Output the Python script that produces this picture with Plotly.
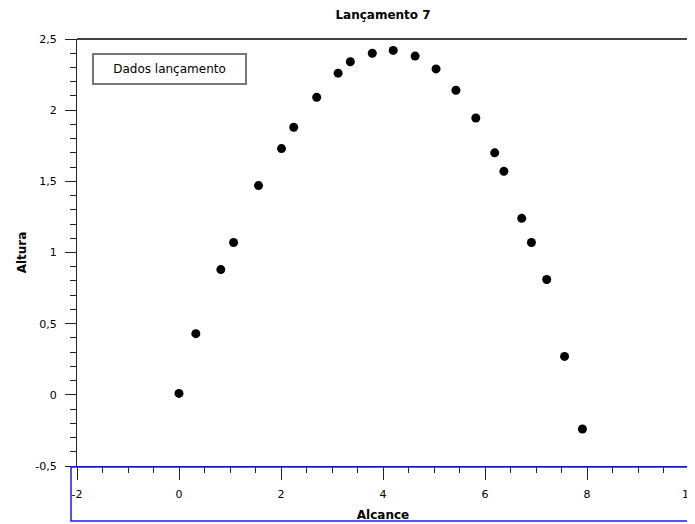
import plotly.graph_objects as go

alcance = [0.0, 0.33, 0.82, 1.07, 1.56, 2.01, 2.25, 2.70, 3.12, 3.36, 3.79, 4.20,
           4.63, 5.04, 5.43, 5.82, 6.19, 6.37, 6.72, 6.91, 7.21, 7.56, 7.91]
altura = [0.01, 0.43, 0.88, 1.07, 1.47, 1.73, 1.88, 2.09, 2.26, 2.34, 2.40, 2.42,
          2.38, 2.29, 2.14, 1.945, 1.70, 1.57, 1.24, 1.07, 0.81, 0.27, -0.24]

x_tick_vals = [-2, 0, 2, 4, 6, 8, 10]
x_tick_text = ["-2", "0", "2", "4", "6", "8", "10"]
y_tick_vals = [-0.5, 0, 0.5, 1, 1.5, 2, 2.5]
y_tick_text = ["-0,5", "0", "0,5", "1", "1,5", "2", "2,5"]

title_text = "Lançamento 7"
legend_text = "Dados lançamento"
x_title = "Alcance"
y_title = "Altura"

FONT = "DejaVu Sans"

# the page body has an 8px margin, so the figure is drawn 8px smaller
W, H = 687, 516
L, R, T, B = 69, 6, 31, 58
PW, PH = W - L - R, H - T - B  # 612 x 427

fig = go.Figure()
fig.add_trace(go.Scatter(
    x=alcance, y=altura, mode="markers", name=legend_text,
    marker=dict(color="black", size=9),
    showlegend=False, cliponaxis=False,
))

fig.update_layout(
    width=W, height=H,
    margin=dict(l=L, r=R, t=T, b=B, autoexpand=False),
    paper_bgcolor="white", plot_bgcolor="white",
    separators=", ",
    font=dict(family=FONT, size=11, color="black"),
    title=dict(text="<b>" + title_text + "</b>", x=(L + PW / 2) / W, xanchor="center",
               y=1 - 7 / H, yanchor="middle", automargin=False,
               font=dict(family=FONT, size=12, color="black")),
    xaxis=dict(
        range=[-2, 10], tickmode="array", tickvals=x_tick_vals, ticktext=x_tick_text,
        automargin=False,
        showgrid=False, zeroline=False, ticklabeloverflow="allow",
        showline=True, linecolor="black", linewidth=1, mirror=False,
        ticks="outside", ticklen=13, tickwidth=1, tickcolor="#222",
        ticklabelstandoff=5,
        minor=dict(dtick=0.5, tick0=0, ticks="outside", ticklen=6, tickwidth=1, tickcolor="#222"),
        tickfont=dict(family=FONT, size=11, color="black"),
        title=dict(text="<b>" + x_title + "</b>", standoff=10, font=dict(family=FONT, size=12)),
    ),
    yaxis=dict(
        range=[-0.5, 2.5], tickmode="array", tickvals=y_tick_vals, ticktext=y_tick_text,
        automargin=False,
        showgrid=False, zeroline=False, ticklabeloverflow="allow",
        showline=True, linecolor="#222", linewidth=1,
        ticks="outside", ticklen=11, tickwidth=1, tickcolor="#222",
        ticklabelstandoff=6,
        minor=dict(dtick=0.1, tick0=0, ticks="outside", ticklen=6, tickwidth=1, tickcolor="#222"),
        tickfont=dict(family=FONT, size=11, color="black"),
        title=dict(text="<b>" + y_title + "</b>", standoff=6, font=dict(family=FONT, size=12)),
    ),
    shapes=[
        dict(type="line", xref="paper", yref="paper", x0=0, x1=1, y0=1, y1=1,
             line=dict(color="#444", width=2)),
        dict(type="line", xref="paper", yref="paper", x0=1, x1=1, y0=0, y1=1,
             line=dict(color="#555", width=2)),
        dict(type="rect", xref="paper", yref="paper",
             x0=-6 / PW, x1=613 / PW,
             y0=-55 / PH, y1=-1 / PH,
             line=dict(color="#1a1aff", width=1.5), fillcolor="rgba(0,0,0,0)", layer="above"),
    ],
    annotations=[
        dict(text=legend_text, xref="paper", yref="paper",
             x=15 / PW, y=1 - 14 / PH, xanchor="left", yanchor="top",
             showarrow=False, align="center", valign="middle",
             width=149, height=26,
             font=dict(family=FONT, size=12, color="black"),
             bordercolor="#777", borderwidth=2, borderpad=1, bgcolor="white"),
    ],
)

fig.write_html("out.html")
